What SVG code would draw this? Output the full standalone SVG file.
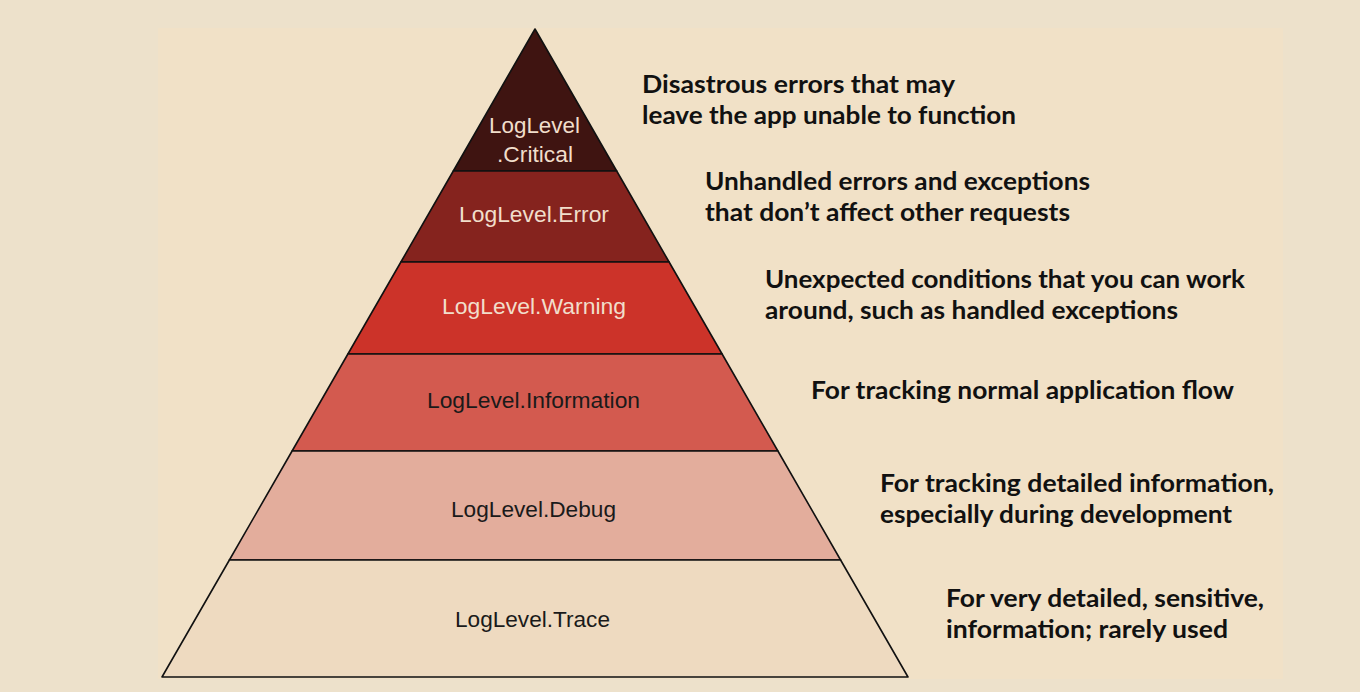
<svg xmlns="http://www.w3.org/2000/svg" width="1360" height="692" viewBox="0 0 1360 692">
<style>
.band{stroke:#111;stroke-width:1.6;stroke-linejoin:round}
.lbl{font-family:"Liberation Sans",Arial,sans-serif;font-size:22px}
.lt{fill:#F1DECB}
.dk{fill:#1a1a1a}
.desc{font-family:Lato,"Open Sans",sans-serif;font-weight:bold;font-size:24px;fill:#111}
</style>
<rect x="0" y="0" width="1360" height="692" fill="#EDE1CB"/>
<rect x="158" y="28" width="1125" height="651" fill="#F1E1C7"/>
<g id="critical">
<polygon class="band" points="535,29 616.7,171 453.3,171" fill="#3F1411"/>
<text class="lbl lt" x="489" y="133" textLength="91" lengthAdjust="spacingAndGlyphs">LogLevel</text>
<text class="lbl lt" x="497" y="162" textLength="76" lengthAdjust="spacingAndGlyphs">.Critical</text>
</g>
<g id="error">
<polygon class="band" points="453.3,171 616.7,171 669.1,262 400.9,262" fill="#85231E"/>
<text class="lbl lt" x="459" y="222" textLength="150" lengthAdjust="spacingAndGlyphs">LogLevel.Error</text>
</g>
<g id="warning">
<polygon class="band" points="400.9,262 669.1,262 722.1,354 347.9,354" fill="#CC3329"/>
<text class="lbl lt" x="442" y="314" textLength="184" lengthAdjust="spacingAndGlyphs">LogLevel.Warning</text>
</g>
<g id="information">
<polygon class="band" points="347.9,354 722.1,354 777.9,451 292.1,451" fill="#D35A4F"/>
<text class="lbl dk" x="427" y="408" textLength="213" lengthAdjust="spacingAndGlyphs">LogLevel.Information</text>
</g>
<g id="debug">
<polygon class="band" points="292.1,451 777.9,451 840.6,560 229.4,560" fill="#E3AD9C"/>
<text class="lbl dk" x="451" y="517" textLength="165" lengthAdjust="spacingAndGlyphs">LogLevel.Debug</text>
</g>
<g id="trace">
<polygon class="band" points="229.4,560 840.6,560 908,677 162,677" fill="#EEDAC0"/>
<text class="lbl dk" x="455" y="627" textLength="155" lengthAdjust="spacingAndGlyphs">LogLevel.Trace</text>
</g>
<g id="descriptions">
<text class="desc" x="642" y="93" textLength="313" lengthAdjust="spacingAndGlyphs">Disastrous errors that may</text>
<text class="desc" x="642" y="124" textLength="374" lengthAdjust="spacingAndGlyphs">leave the app unable to function</text>
<text class="desc" x="705" y="190" textLength="385" lengthAdjust="spacingAndGlyphs">Unhandled errors and exceptions</text>
<text class="desc" x="705" y="221" textLength="365" lengthAdjust="spacingAndGlyphs">that don’t affect other requests</text>
<text class="desc" x="765" y="288" textLength="480" lengthAdjust="spacingAndGlyphs">Unexpected conditions that you can work</text>
<text class="desc" x="765" y="319" textLength="413" lengthAdjust="spacingAndGlyphs">around, such as handled exceptions</text>
<text class="desc" x="811" y="399" textLength="423" lengthAdjust="spacingAndGlyphs">For tracking normal application flow</text>
<text class="desc" x="880" y="492" textLength="394" lengthAdjust="spacingAndGlyphs">For tracking detailed information,</text>
<text class="desc" x="880" y="523" textLength="352" lengthAdjust="spacingAndGlyphs">especially during development</text>
<text class="desc" x="946" y="607" textLength="318" lengthAdjust="spacingAndGlyphs">For very detailed, sensitive,</text>
<text class="desc" x="946" y="638" textLength="282" lengthAdjust="spacingAndGlyphs">information; rarely used</text>
</g>
</svg>
